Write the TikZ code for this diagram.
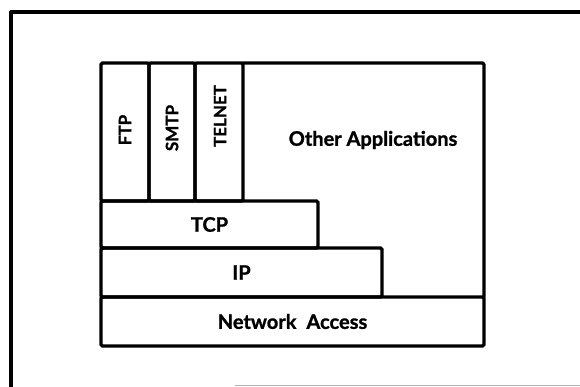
\documentclass[tikz,border=0pt]{standalone}
\usepackage{fontspec}
\setmainfont{Lato}[BoldFeatures={FakeBold=1.2}]
\begin{document}
\begin{tikzpicture}[x=1pt,y=-1pt,
  frame/.style={line width=3.2pt,line cap=round,line join=round},
  layer/.style={draw,line width=3.2pt,rounded corners=1.5pt,inner sep=0pt,
    font=\bfseries\fontsize{20}{22}\selectfont},
  app/.style={layer,minimum height=138pt},
  lbl/.style={inner sep=0pt,font=\bfseries\fontsize{20}{22}\selectfont},
  vlbl/.style={inner sep=0pt,rotate=90,font=\bfseries\fontsize{17}{19}\selectfont}]
\useasboundingbox (0,0) rectangle (580,387);
% outer frame
\coordinate (fl) at (11,387);
\coordinate (ftl) at (11,12);
\coordinate (ftr) at (580,12);
\draw[frame] (fl) -- (ftl) -- (ftr);
\coordinate (bl) at (235,385);
\coordinate (br) at (580,385);
\draw[gray!60,line width=1pt] (bl) -- (br);
% application column and the space for other applications
\coordinate (oa1) at (243,63);
\coordinate (oa2) at (484,63);
\coordinate (oa3) at (484,297);
\draw[frame,rounded corners=1.5pt] (oa1) -- (oa2) -- (oa3);
\node[app,minimum width=48pt] (ftp) at (125,132) {};
\node[app,minimum width=46pt] (smtp) at (172,132) {};
\node[app,minimum width=48pt] (telnet) at (219,132) {};
\node[vlbl] (ftpl) at (125,130) {FTP};
\node[vlbl] (smtpl) at (172,128) {SMTP};
\node[vlbl] (telnetl) at (220,116) {TELNET};
\node[lbl] (other) at (373,140) {Other Applications};
% transport, internet and network layers
\node[layer,minimum width=217pt,minimum height=47pt] (tcp) at (209.5,224.5) {TCP};
\node[layer,minimum width=281pt,minimum height=49pt] (ip) at (241.5,272.5) {IP};
\node[layer,minimum width=383pt,minimum height=49pt] (na) at (292.5,321.5) {Network\enspace Access};
\end{tikzpicture}
\end{document}
